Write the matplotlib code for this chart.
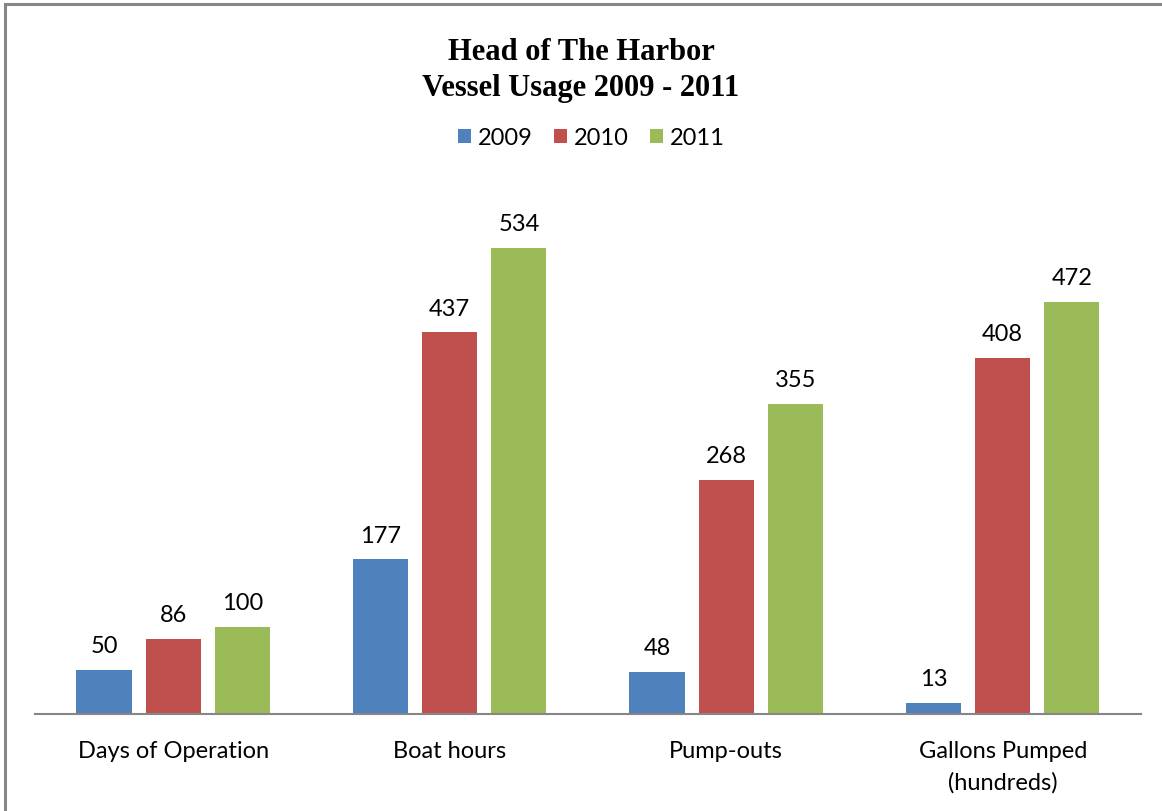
import numpy as np
import matplotlib
matplotlib.use("Agg")
import matplotlib.pyplot as plt
from matplotlib.patches import Rectangle

plt.rcParams['font.family'] = ['Lato', 'DejaVu Sans']

categories = ["Days of Operation", "Boat hours", "Pump-outs", "Gallons Pumped\n(hundreds)"]
years = ["2009", "2010", "2011"]
v2009 = [50, 177, 48, 13]
v2010 = [86, 437, 268, 408]
v2011 = [100, 534, 355, 472]
colors = ["#4f81bd", "#c0504d", "#9bbb59"]

fig = plt.figure(figsize=(11.62, 8.12), dpi=100)
ax = fig.add_axes([0.0301, 0.1194, 0.9518, 0.6453])

x = np.arange(len(categories))
width = 0.2
for i, (vals, lab) in enumerate(zip([v2009, v2010, v2011], years)):
    bars = ax.bar(x + (i - 1) * 0.25, vals, width, color=colors[i], label=lab)
    for b, v in zip(bars, vals):
        ax.annotate(str(v), (b.get_x() + b.get_width() / 2, v),
                    xytext=(0, 10), textcoords="offset points",
                    ha="center", va="bottom", fontsize=17, color="black")

ax.set_xlim(-0.5, 3.5)
ax.set_ylim(0, 600)
for s in ["top", "right", "left"]:
    ax.spines[s].set_visible(False)
ax.spines["bottom"].set_color("#868686")
ax.spines["bottom"].set_linewidth(1.5)
ax.set_yticks([])
ax.set_xticks(x)
ax.set_xticklabels(categories, fontsize=17, linespacing=1.55)
ax.tick_params(axis="x", length=0, pad=19)

fig.text(0.5, 0.913, "Head of The Harbor\nVessel Usage 2009 - 2011",
         ha="center", va="center", fontsize=22, fontweight="bold",
         family=["Liberation Serif", "DejaVu Serif"], linespacing=1.3)

fig.legend(loc="center", bbox_to_anchor=(0.509, 0.829), ncol=3, frameon=False,
           fontsize=17, handlelength=0.55, handleheight=0.55, handletextpad=0.3,
           columnspacing=0.9)

fig.patches.append(Rectangle((0.0045, -0.1), 1.2, 1.1 - 0.0062, transform=fig.transFigure,
                             fill=False, edgecolor="#868686", lw=2.2))

fig.savefig("out.png", dpi=100)
